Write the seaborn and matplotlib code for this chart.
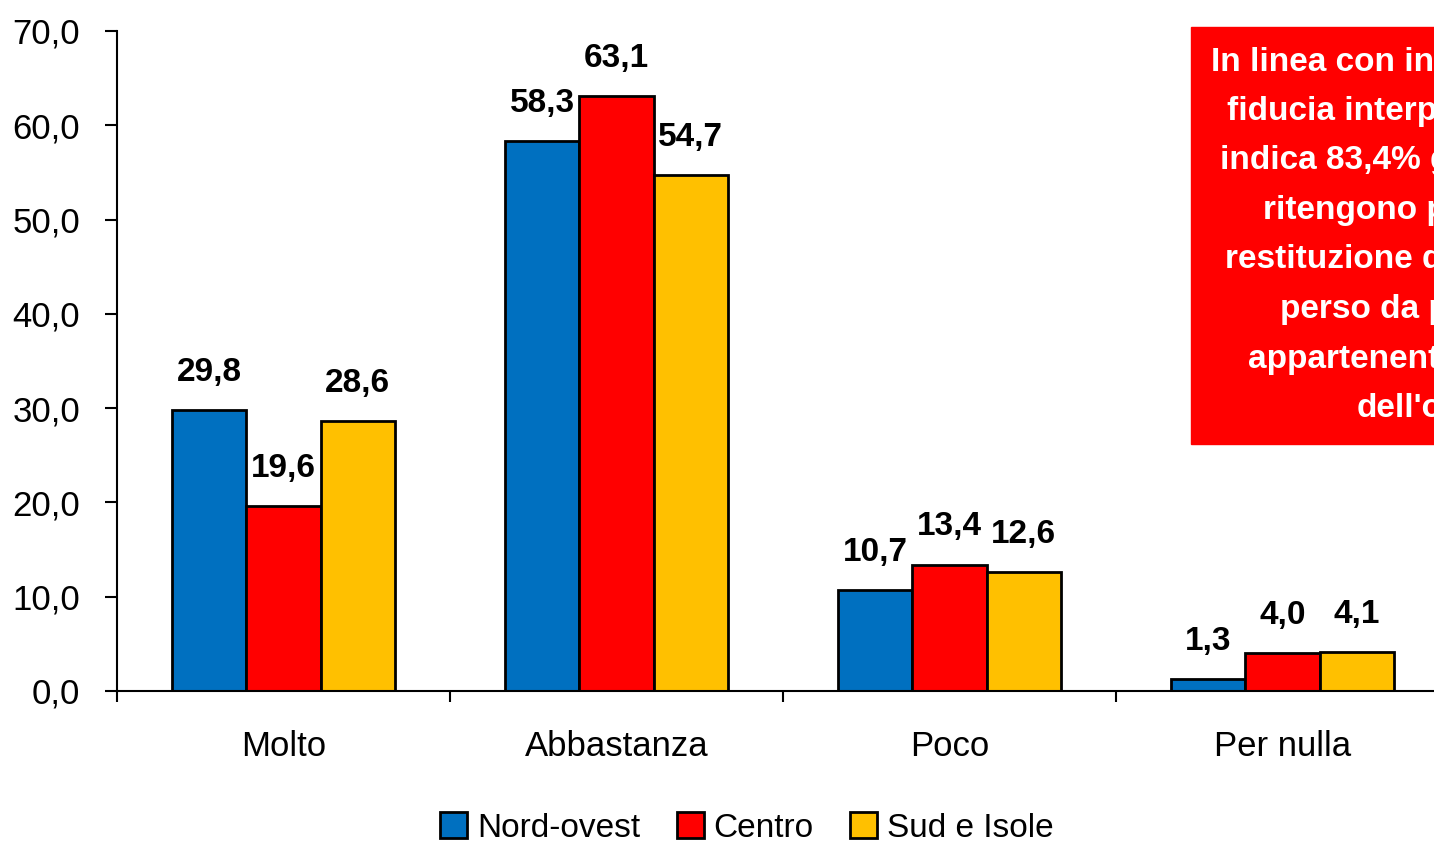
import matplotlib.pyplot as plt
import seaborn as sns
import pandas as pd
from matplotlib import font_manager as fm
from matplotlib.ticker import FuncFormatter, FixedLocator

sns.set_style("white")
names = {f.name for f in fm.fontManager.ttflist}
font = "Liberation Sans Narrow" if "Liberation Sans Narrow" in names else "Liberation Sans"
plt.rcParams["font.family"] = [font, "DejaVu Sans"]
plt.rcParams["text.color"] = "black"
plt.rcParams["xtick.color"] = "black"
plt.rcParams["ytick.color"] = "black"

# data
categories = ["Molto", "Abbastanza", "Poco", "Per nulla"]
regions = ["Nord-ovest", "Centro", "Sud e Isole"]
nord_ovest = [29.8, 58.3, 10.7, 1.3]
centro = [19.6, 63.1, 13.4, 4.0]
sud_isole = [28.6, 54.7, 12.6, 4.1]
colors = ["#0070C0", "#FF0000", "#FFC000"]
box_lines = ["In linea con indagini", "fiducia interpersonale", "indica 83,4% gli",
             "ritengono probabile", "restituzione del", "perso da persone",
             "appartenenti alle", "dell'ordine"]
box_x = [1211, 1227, 1220, 1263, 1225, 1280, 1248, 1357]

df = pd.DataFrame({
    "cat": categories * 3,
    "reg": [r for r in regions for _ in categories],
    "val": nord_ovest + centro + sud_isole,
})

fig = plt.figure(figsize=(14.34, 8.43), dpi=100)
ax = fig.add_axes([117 / 1434, 152 / 843, 1332 / 1434, 660 / 843])
sns.barplot(data=df, x="cat", y="val", hue="reg", palette=colors, width=0.667,
            edgecolor="black", linewidth=2, ax=ax, legend=False, saturation=1)

for cont in ax.containers:
    ax.bar_label(cont, labels=[f"{v:.1f}".replace(".", ",") for v in cont.datavalues],
                 padding=16, fontsize=24, fontweight="bold", color="black")

ax.set_xlim(-0.5, 3.5)
ax.set_ylim(0, 70)
ax.set_yticks(range(0, 71, 10))
ax.yaxis.set_major_formatter(FuncFormatter(lambda v, p: f"{v:.1f}".replace(".", ",")))
ax.tick_params(axis="y", left=True, length=8.5, width=1.5, labelsize=25, pad=18)
ax.tick_params(axis="x", which="major", length=0, labelsize=25, pad=28)
ax.xaxis.set_minor_locator(FixedLocator([-0.5, 0.5, 1.5, 2.5]))
ax.tick_params(axis="x", which="minor", bottom=True, length=8, width=1.5)
ax.set_xlabel("")
ax.set_ylabel("")
for s in ["top", "right"]:
    ax.spines[s].set_visible(False)
for s in ["left", "bottom"]:
    ax.spines[s].set_linewidth(1.5)
    ax.spines[s].set_color("black")

# red note box, clipped by figure edge
fig.patches.append(plt.Rectangle((1191 / 1434, 1 - 444 / 843), 0.3, 417 / 843,
                                 transform=fig.transFigure, color="#FF0000"))
for i, (line, x) in enumerate(zip(box_lines, box_x)):
    fig.text(x / 1434, 1 - (62 + 49.5 * i) / 843, line, color="white", fontsize=24,
             fontweight="bold", ha="left", va="center")

handles = [plt.Rectangle((0, 0), 1, 1, facecolor=c, edgecolor="black", linewidth=2) for c in colors]
fig.legend(handles, regions, loc="center", bbox_to_anchor=(747 / 1434, 1 - 828 / 843), ncol=3,
           frameon=False, fontsize=24, handlelength=0.8, handleheight=0.8, handletextpad=0.3,
           columnspacing=1.1)

fig.savefig("out.png", dpi=100)
